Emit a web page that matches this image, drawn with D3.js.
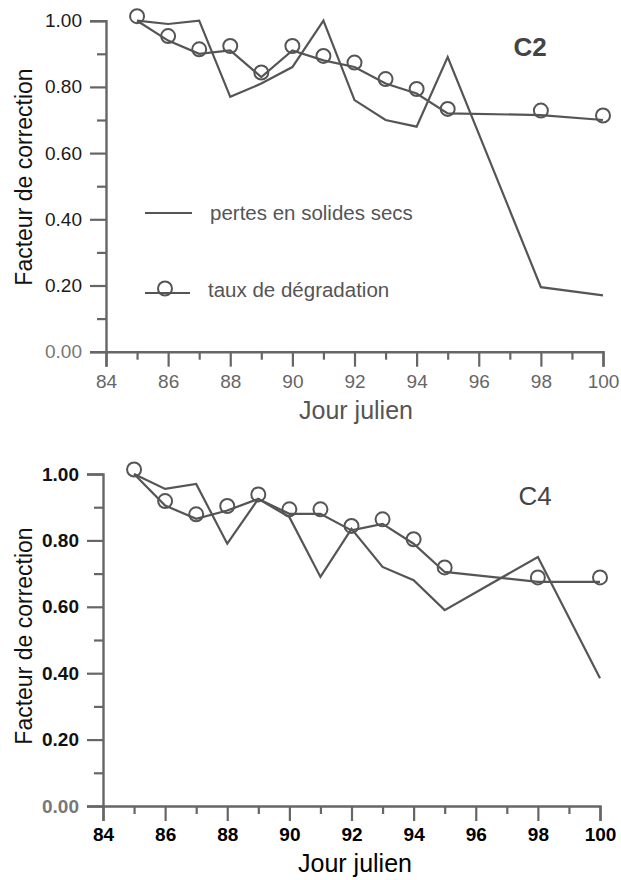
<!DOCTYPE html>
<html>
<head>
<meta charset="utf-8">
<script src="https://cdn.jsdelivr.net/npm/d3@7"></script>
<style>
  html, body { margin: 0; padding: 0; background: #fff; }
  svg { display: block; font-family: "Liberation Sans", Arial, Helvetica, sans-serif; }
</style>
</head>
<body>
<svg id="chart" width="621" height="880"></svg>
<script>
// Jours juliens d'échantillonnage
const jours = [85, 86, 87, 88, 89, 90, 91, 92, 93, 94, 95, 98, 100];

// Colonne C2
const c2Pertes = [1.00, 0.99, 1.00, 0.77, 0.81, 0.86, 1.00, 0.76, 0.70, 0.68, 0.89, 0.195, 0.17];
const c2Taux   = [1.00, 0.94, 0.90, 0.91, 0.83, 0.91, 0.88, 0.86, 0.81, 0.78, 0.72, 0.715, 0.70];

// Colonne C4
const c4Pertes = [1.00, 0.955, 0.97, 0.79, 0.925, 0.87, 0.69, 0.835, 0.72, 0.68, 0.59, 0.75, 0.385];
const c4Taux   = [1.00, 0.905, 0.865, 0.89, 0.925, 0.88, 0.88, 0.83, 0.85, 0.79, 0.705, 0.675, 0.675];

// Graduations
const xTicks = [84, 86, 88, 90, 92, 94, 96, 98, 100];
const xMinor = [85, 87, 89, 91, 93, 95, 97, 99];
const yTicks = [0, 0.2, 0.4, 0.6, 0.8, 1.0];
const yMinor = [0.1, 0.3, 0.5, 0.7, 0.9];

const legendLabels = ["pertes en solides secs", "taux de dégradation"];
const xTitle = "Jour julien";
const yTitle = "Facteur de correction";

const svg = d3.select("#chart");
const lineColor = "#555";
const axisColor = "#666";

function panel(o) {
  const x = d3.scaleLinear().domain([84, 100]).range(o.xRange);
  const y = d3.scaleLinear().domain([0, 1]).range(o.yRange);
  const g = svg.append("g");
  const x0 = o.xRange[0], yb = o.yRange[0];

  // Axe Y
  const ya = g.append("g").attr("transform", `translate(${x0},0)`)
    .call(d3.axisLeft(y).tickValues(yTicks).tickFormat(d3.format(".2f"))
      .tickSize(16).tickPadding(8));
  ya.append("g").call(d3.axisLeft(y).tickValues(yMinor).tickFormat("").tickSize(9))
    .select(".domain").remove();
  ya.selectAll("text").attr("font-size", 19).attr("fill", o.yLabelColor)
    .attr("font-weight", o.labelWeight).attr("font-family", "Liberation Sans, Arial, sans-serif")
    .filter(d => d === 0).attr("fill", "#777");

  // Axe X
  const xa = g.append("g").attr("transform", `translate(0,${yb})`)
    .call(d3.axisBottom(x).tickValues(xTicks).tickFormat(d3.format("d"))
      .tickSize(15).tickPadding(o.xPad));
  xa.append("g").call(d3.axisBottom(x).tickValues(xMinor).tickFormat("").tickSize(8))
    .select(".domain").remove();
  xa.selectAll("text").attr("font-size", 19).attr("fill", o.xLabelColor)
    .attr("font-weight", o.labelWeight).attr("font-family", "Liberation Sans, Arial, sans-serif");

  g.selectAll(".domain, .tick line").attr("stroke", axisColor).attr("stroke-width", 2.2);
  g.selectAll(".domain").attr("stroke-width", 2.4);

  // Titres d'axes
  g.append("text")
    .attr("transform", `translate(32,${o.yTitleY}) rotate(-90)`)
    .attr("text-anchor", "middle").attr("font-size", 23).attr("fill", "#111")
    .text(yTitle);
  g.append("text")
    .attr("x", o.xTitleX).attr("y", o.xTitleY)
    .attr("text-anchor", "middle").attr("font-size", 25).attr("fill", o.xTitleColor)
    .text(xTitle);

  // Nom de la colonne
  g.append("text")
    .attr("x", o.nameX).attr("y", o.nameY).attr("text-anchor", "middle")
    .attr("font-size", 26).attr("font-weight", o.nameWeight).attr("fill", "#444")
    .text(o.name);

  const line = d3.line().x((d, i) => x(jours[i])).y(d => y(d));

  g.append("path").datum(o.pertes).attr("d", line)
    .attr("fill", "none").attr("stroke", lineColor).attr("stroke-width", 2.2)
    .attr("stroke-linejoin", "miter");
  g.append("path").datum(o.taux).attr("d", line)
    .attr("fill", "none").attr("stroke", lineColor).attr("stroke-width", 2.2);
  g.selectAll("circle.pt").data(o.taux).join("circle").attr("class", "pt")
    .attr("cx", (d, i) => x(jours[i])).attr("cy", d => y(d) - 4.5).attr("r", 7)
    .attr("fill", "none").attr("stroke", lineColor).attr("stroke-width", 2);

  return g;
}

panel({
  name: "C2", nameX: 530, nameY: 56, nameWeight: "bold",
  xRange: [106, 603], yRange: [351.7, 20.7],
  pertes: c2Pertes, taux: c2Taux,
  yLabelColor: "#1a1a1a", xLabelColor: "#666", labelWeight: "normal", xPad: 8,
  yTitleY: 177, xTitleX: 356, xTitleY: 419, xTitleColor: "#555"
});

panel({
  name: "C4", nameX: 535, nameY: 505, nameWeight: "normal",
  xRange: [103, 600], yRange: [806, 474],
  pertes: c4Pertes, taux: c4Taux,
  yLabelColor: "#111", xLabelColor: "#000", labelWeight: "bold", xPad: 7,
  yTitleY: 636, xTitleX: 355, xTitleY: 872, xTitleColor: "#000"
});

// Légende
const lg = svg.append("g");
lg.append("line").attr("x1", 145).attr("x2", 192).attr("y1", 213).attr("y2", 213)
  .attr("stroke", lineColor).attr("stroke-width", 2.2);
lg.append("line").attr("x1", 145).attr("x2", 190).attr("y1", 293).attr("y2", 293)
  .attr("stroke", lineColor).attr("stroke-width", 2.2);
lg.append("circle").attr("cx", 165).attr("cy", 288.5).attr("r", 7)
  .attr("fill", "none").attr("stroke", lineColor).attr("stroke-width", 2);
lg.selectAll("text.lg").data(legendLabels).join("text").attr("class", "lg")
  .attr("x", (d, i) => i === 0 ? 210 : 208)
  .attr("y", (d, i) => i === 0 ? 220 : 297)
  .attr("font-size", 20.5).attr("fill", "#555")
  .text(d => d);
</script>
</body>
</html>
